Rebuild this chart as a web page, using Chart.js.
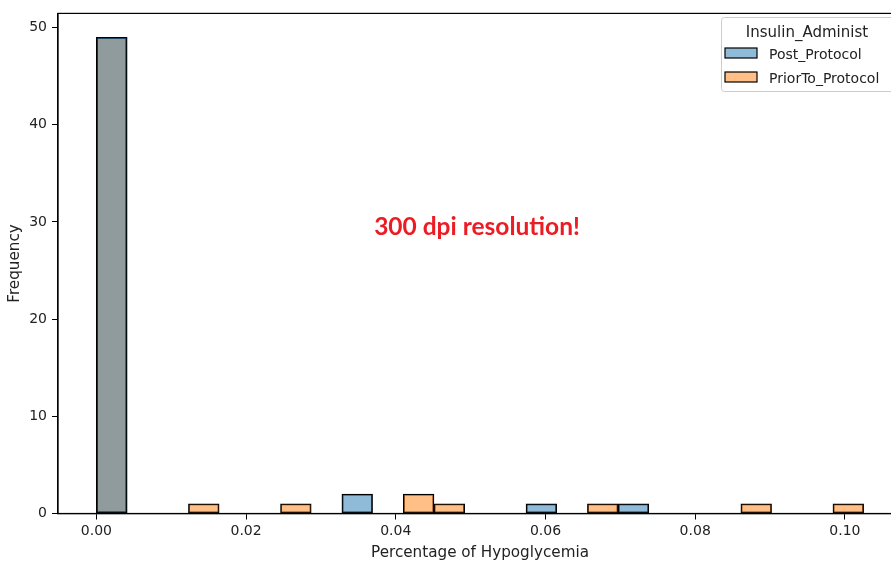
<!DOCTYPE html>
<html>
<head>
<meta charset="utf-8">
<script src="https://cdn.jsdelivr.net/npm/chart.js@4"></script>
<style>
	html, body { margin: 0; padding: 0; background: #fff; overflow: hidden; }
	#wrap { width: 910px; height: 562px; }
</style>
</head>
<body>
<div id="wrap"><canvas id="hist" width="910" height="562"></canvas></div>
<script>
// histogram bins (centres), bin width 0.0041
const binCenters = [
	0.00205, 0.00615, 0.01025, 0.01435, 0.01845, 0.02255, 0.02665, 0.03075, 0.03485, 0.03895,
	0.04305, 0.04715, 0.05125, 0.05535, 0.05945, 0.06355, 0.06765, 0.07175, 0.07585, 0.07995,
	0.08405, 0.08815, 0.09225, 0.09635, 0.10045,
]
const postProtocol = [49, 0, 0, 0, 0, 0, 0, 0, 2, 0, 0, 0, 0, 0, 1, 0, 0, 1, 0, 0, 0, 0, 0, 0, 0]
const priorToProtocol = [49, 0, 0, 1, 0, 0, 1, 0, 0, 0, 2, 1, 0, 0, 0, 0, 1, 0, 0, 0, 0, 1, 0, 0, 1]
const seriesLabels = ["Post_Protocol", "PriorTo_Protocol"]
const legendTitle = "Insulin_Administ"
const xTicks = [0, 0.02, 0.04, 0.06, 0.08, 0.1]
const yTicks = [0, 10, 20, 30, 40, 50]
const note = "300 dpi resolution!"

const font = "DejaVu Sans"

function points(values) {
	return values.map((y, i) => ({ x: binCenters[i], y }))
}

const framePlugin = {
	id: "frame",
	afterDatasetsDraw(chart) {
		const { ctx, chartArea } = chart
		ctx.save()
		ctx.strokeStyle = "#000"
		ctx.lineWidth = 1.2
		ctx.strokeRect(chartArea.left, chartArea.top, chartArea.right - chartArea.left, chartArea.bottom - chartArea.top)
		ctx.restore()
	},
}

const notePlugin = {
	id: "note",
	afterDraw(chart) {
		const ctx = chart.ctx
		ctx.save()
		ctx.fillStyle = "#ec1c24"
		ctx.font = "bold 24.5px Lato"
		ctx.textAlign = "center"
		ctx.textBaseline = "middle"
		ctx.fillText(note, 477, 227)
		ctx.restore()
	},
}

const legendPlugin = {
	id: "boxLegend",
	afterDraw(chart) {
		const ctx = chart.ctx
		const left = 721, top = 17, right = 894, bottom = 91, r = 3
		ctx.save()
		ctx.beginPath()
		ctx.roundRect(left + 0.5, top + 0.5, right - left, bottom - top, r)
		ctx.fillStyle = "rgba(255,255,255,0.8)"
		ctx.fill()
		ctx.strokeStyle = "#cccccc"
		ctx.lineWidth = 1
		ctx.stroke()

		ctx.fillStyle = "#222"
		ctx.font = `15px "${font}"`
		ctx.textAlign = "center"
		ctx.textBaseline = "alphabetic"
		ctx.fillText(legendTitle, 807, 36.5)

		ctx.font = `14px "${font}"`
		ctx.textAlign = "left"
		chart.data.datasets.forEach((ds, i) => {
			const y = 48 + i * 24
			ctx.fillStyle = ds.backgroundColor
			ctx.fillRect(725, y, 32, 10)
			ctx.strokeStyle = "#000"
			ctx.lineWidth = 1.2
			ctx.strokeRect(725, y, 32, 10)
			ctx.fillStyle = "#222"
			ctx.fillText(ds.label, 769, y + 10.5)
		})
		ctx.restore()
	},
}

new Chart(document.getElementById("hist"), {
	type: "bar",
	data: {
		datasets: [
			{
				label: seriesLabels[0],
				data: points(postProtocol),
				backgroundColor: "rgba(31, 119, 180, 0.5)",
				borderColor: "#000",
				borderWidth: 1.2,
				borderSkipped: false,
			},
			{
				label: seriesLabels[1],
				data: points(priorToProtocol),
				backgroundColor: "rgba(255, 127, 14, 0.5)",
				borderColor: "#000",
				borderWidth: 1.2,
				borderSkipped: false,
			},
		],
	},
	options: {
		responsive: false,
		animation: false,
		grouped: false,
		barPercentage: 1,
		categoryPercentage: 1,
		layout: { padding: { top: 10, right: 8, left: 0, bottom: 0 } },
		plugins: { legend: { display: false }, tooltip: { enabled: false } },
		scales: {
			x: {
				type: "linear",
				offset: false,
				min: -0.005125,
				max: 0.107625,
				afterBuildTicks: (scale) => { scale.ticks = xTicks.map((value) => ({ value })) },
				afterFit: (scale) => { scale.height = 48.5 },
				grid: { offset: false, drawOnChartArea: false, drawTicks: true, tickLength: 6, color: "#000", tickWidth: 1 },
				border: { display: true, color: "#000", width: 1.2 },
				ticks: {
					color: "#222",
					font: { family: font, size: 14 },
					padding: 3,
					maxRotation: 0,
					callback: (v) => v.toFixed(2),
				},
				title: {
					display: true,
					text: "Percentage of Hypoglycemia",
					color: "#222",
					font: { family: font, size: 15.2 },
					padding: { top: 2, bottom: 0 },
				},
			},
			y: {
				min: 0,
				max: 51.45,
				afterBuildTicks: (scale) => { scale.ticks = yTicks.map((value) => ({ value })) },
				afterFit: (scale) => { scale.width = 58 },
				grid: { drawOnChartArea: false, drawTicks: true, tickLength: 6, color: "#000", tickWidth: 1 },
				border: { display: true, color: "#000", width: 1.2 },
				ticks: {
					color: "#222",
					font: { family: font, size: 14 },
					padding: 5,
				},
				title: {
					display: true,
					text: "Frequency",
					color: "#222",
					font: { family: font, size: 15.2 },
					padding: { top: 6, bottom: 0 },
				},
			},
		},
	},
	plugins: [framePlugin, notePlugin, legendPlugin],
})
</script>
</body>
</html>
